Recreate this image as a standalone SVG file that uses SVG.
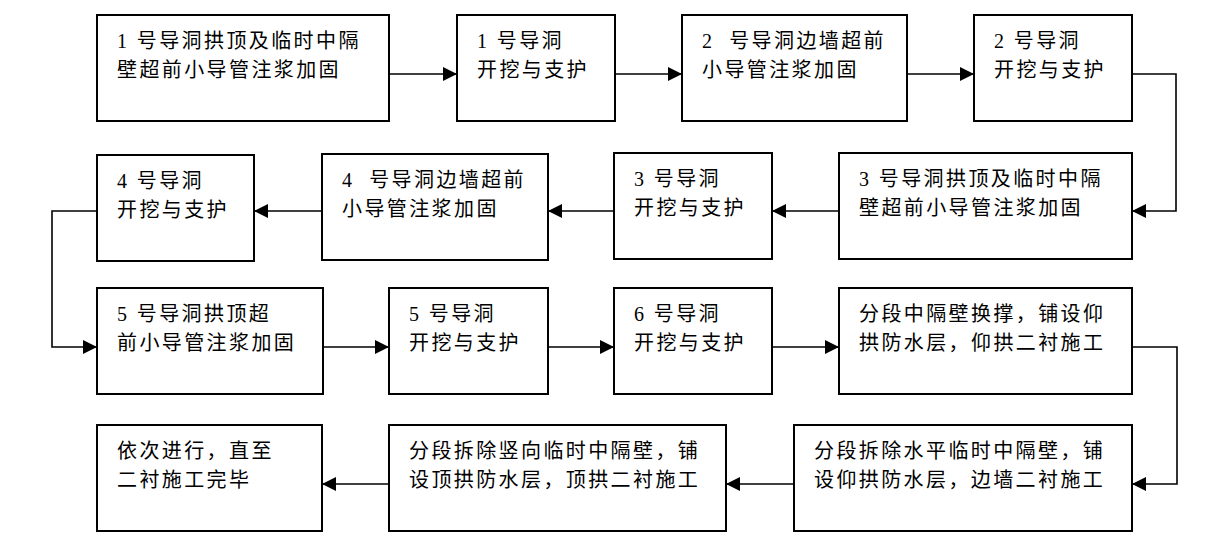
<svg xmlns="http://www.w3.org/2000/svg" width="1223" height="557" viewBox="0 0 1223 557">
<defs>
<marker id="ah" markerUnits="userSpaceOnUse" markerWidth="14" markerHeight="14" refX="14" refY="7" orient="auto">
<path d="M0,0 L14,7 L0,14 z" fill="#000"/>
</marker>
<style>
.box{fill:#fff;stroke:#000;stroke-width:2}
.t{font-family:"Liberation Serif","Noto Sans CJK SC",serif;font-size:20px;letter-spacing:2.4px;fill:#000;white-space:pre}
.c{fill:none;stroke:#000;stroke-width:1.6;marker-end:url(#ah)}
</style>
</defs>
<rect width="1223" height="557" fill="#fff"/>
<g id="connectors">
<path class="c" d="M389,74 H457"/>
<path class="c" d="M615,74 H682"/>
<path class="c" d="M907,74 H974"/>
<path class="c" d="M1132,74 H1176 V211 H1132"/>
<path class="c" d="M839,211 H772"/>
<path class="c" d="M614,211 H548"/>
<path class="c" d="M322,211 H254"/>
<path class="c" d="M97,211 H52 V347 H97"/>
<path class="c" d="M323,347 H389"/>
<path class="c" d="M548,347 H614"/>
<path class="c" d="M772,347 H839"/>
<path class="c" d="M1132,347 H1177 V484 H1132"/>
<path class="c" d="M794,484 H726"/>
<path class="c" d="M389,484 H322"/>
</g>
<g id="nA"><rect class="box" x="97" y="15" width="292" height="106"/><text class="t" x="117" y="48" xml:space="preserve">1 号导洞拱顶及临时中隔</text><text class="t" x="117" y="77">壁超前小导管注浆加固</text></g>
<g id="nB"><rect class="box" x="457" y="15" width="158" height="106"/><text class="t" x="477" y="48" xml:space="preserve">1 号导洞</text><text class="t" x="477" y="77">开挖与支护</text></g>
<g id="nC"><rect class="box" x="682" y="15" width="225" height="106"/><text class="t" x="702" y="48" xml:space="preserve">2  号导洞边墙超前</text><text class="t" x="702" y="77">小导管注浆加固</text></g>
<g id="nD"><rect class="box" x="974" y="15" width="158" height="106"/><text class="t" x="994" y="48" xml:space="preserve">2 号导洞</text><text class="t" x="994" y="77">开挖与支护</text></g>
<g id="nE"><rect class="box" x="839" y="153" width="293" height="106"/><text class="t" x="859" y="186" xml:space="preserve">3 号导洞拱顶及临时中隔</text><text class="t" x="859" y="215">壁超前小导管注浆加固</text></g>
<g id="nF"><rect class="box" x="614" y="153" width="158" height="106"/><text class="t" x="634" y="186" xml:space="preserve">3 号导洞</text><text class="t" x="634" y="215">开挖与支护</text></g>
<g id="nG"><rect class="box" x="322" y="154" width="226" height="106"/><text class="t" x="342" y="187" xml:space="preserve">4  号导洞边墙超前</text><text class="t" x="342" y="216">小导管注浆加固</text></g>
<g id="nH"><rect class="box" x="97" y="155" width="157" height="106"/><text class="t" x="117" y="188" xml:space="preserve">4 号导洞</text><text class="t" x="117" y="217">开挖与支护</text></g>
<g id="nI"><rect class="box" x="97" y="288" width="226" height="106"/><text class="t" x="117" y="321" xml:space="preserve">5 号导洞拱顶超</text><text class="t" x="117" y="350">前小导管注浆加固</text></g>
<g id="nJ"><rect class="box" x="389" y="288" width="159" height="106"/><text class="t" x="409" y="321" xml:space="preserve">5 号导洞</text><text class="t" x="409" y="350">开挖与支护</text></g>
<g id="nK"><rect class="box" x="614" y="288" width="158" height="106"/><text class="t" x="634" y="321" xml:space="preserve">6 号导洞</text><text class="t" x="634" y="350">开挖与支护</text></g>
<g id="nL"><rect class="box" x="839" y="288" width="293" height="106"/><text class="t" x="859" y="321">分段中隔壁换撑，铺设仰</text><text class="t" x="859" y="350">拱防水层，仰拱二衬施工</text></g>
<g id="nM"><rect class="box" x="794" y="425" width="338" height="106"/><text class="t" x="814" y="458">分段拆除水平临时中隔壁，铺</text><text class="t" x="814" y="487">设仰拱防水层，边墙二衬施工</text></g>
<g id="nN"><rect class="box" x="389" y="425" width="337" height="106"/><text class="t" x="409" y="458">分段拆除竖向临时中隔壁，铺</text><text class="t" x="409" y="487">设顶拱防水层，顶拱二衬施工</text></g>
<g id="nO"><rect class="box" x="97" y="425" width="225" height="106"/><text class="t" x="117" y="458">依次进行，直至</text><text class="t" x="117" y="487">二衬施工完毕</text></g>
</svg>
